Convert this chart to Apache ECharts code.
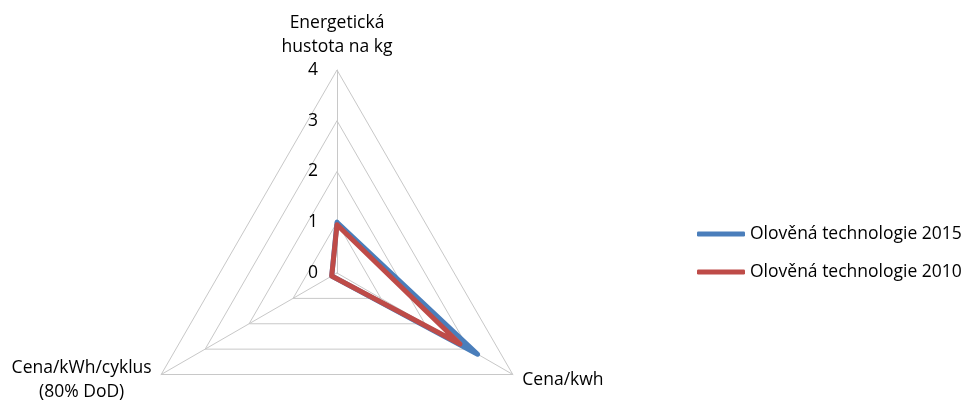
<!DOCTYPE html>
<html>
<head>
<meta charset="utf-8">
<script src="https://cdn.jsdelivr.net/npm/echarts@6/dist/echarts.min.js"></script>
<style>
  html, body { margin: 0; padding: 0; background: #fff; }
  #chart { width: 963px; height: 401px; }
</style>
</head>
<body>
<div id="chart"></div>
<script>
// Radar axes, listed counter-clockwise from the top (ECharts order)
const indicatorNames = ['Energetická\nhustota na kg', 'Cena/kWh/cyklus\n(80% DoD)', 'Cena/kwh'];
const axisMax = 4;
const tickLabels = ['0', '1', '2', '3', '4'];

const seriesNames = ['Olověná technologie 2015', 'Olověná technologie 2010'];
const values2015 = [1.0, 0.12, 3.2];
const values2010 = [0.95, 0.12, 2.8];

const FONT = '"Open Sans", Lato, sans-serif';
const FS = 17.5;
const chart = echarts.init(document.getElementById('chart'));

chart.setOption({
  animation: false,
  backgroundColor: '#ffffff',
  color: ['#4a7ebb', '#be4b48'],
  legend: {
    orient: 'vertical',
    left: 692,
    top: 218,
    itemGap: 16,
    itemWidth: 48,
    itemHeight: 5,
    icon: 'roundRect',
    textStyle: { fontFamily: FONT, fontSize: FS, color: '#000', lineHeight: 22 },
    data: seriesNames
  },
  radar: {
    center: [337, 273],
    radius: 203,
    startAngle: 90,
    splitNumber: 4,
    shape: 'polygon',
    nameGap: 11,
    axisName: {
      color: '#000', fontFamily: FONT, fontSize: FS, lineHeight: 24,
      formatter: function (name) {
        return name.split('\n').map(function (l) { return '{c|' + l + '}'; }).join('\n');
      },
      rich: { c: { align: 'center', fontFamily: FONT, fontSize: FS, lineHeight: 24, color: '#000' } }
    },
    splitArea: { show: false },
    splitLine: { lineStyle: { color: '#c8c8c8', width: 1 } },
    axisLine: { lineStyle: { color: '#c8c8c8', width: 1 } },
    axisLabel: {
      show: false,
      color: '#000',
      fontFamily: FONT,
      fontSize: FS,
      margin: 19,
      formatter: function (v) { return tickLabels[Math.round(v)] ?? v; }
    },
    indicator: indicatorNames.map(function (n, i) {
      const ind = { name: n, min: 0, max: axisMax };
      if (i === 0) ind.axisLabel = { show: true };
      return ind;
    })
  },
  series: [{
    type: 'radar',
    symbol: 'none',
    lineStyle: { width: 5, join: 'round', cap: 'round' },
    data: [
      { name: seriesNames[0], value: values2015, lineStyle: { color: '#4a7ebb', width: 5 }, itemStyle: { color: '#4a7ebb' } },
      { name: seriesNames[1], value: values2010, lineStyle: { color: '#be4b48', width: 5 }, itemStyle: { color: '#be4b48' } }
    ]
  }]
});
</script>
</body>
</html>
